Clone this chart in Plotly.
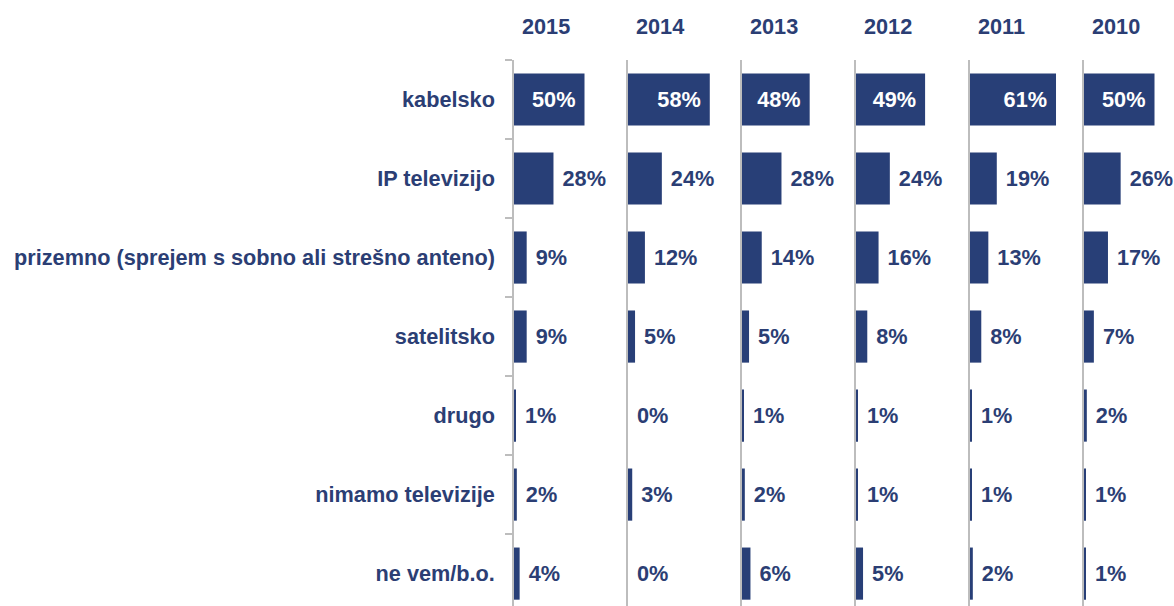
import plotly.graph_objects as go
from plotly.subplots import make_subplots

categories = [
    'kabelsko',
    'IP televizijo',
    'prizemno (sprejem s sobno ali strešno anteno)',
    'satelitsko',
    'drugo',
    'nimamo televizije',
    'ne vem/b.o.',
]
years = ['2015', '2014', '2013', '2012', '2011', '2010']
v2015 = [50, 28, 9, 9, 1, 2, 4]
v2014 = [58, 24, 12, 5, 0, 3, 0]
v2013 = [48, 28, 14, 5, 1, 2, 6]
v2012 = [49, 24, 16, 8, 1, 1, 5]
v2011 = [61, 19, 13, 8, 1, 1, 2]
v2010 = [50, 26, 17, 7, 2, 1, 1]
series = [v2015, v2014, v2013, v2012, v2011, v2010]

NAVY = '#283F77'
TEXT = '#2B3E74'
FONT = 'Liberation Sans, Arial, sans-serif'
FS = 21.7

fig = make_subplots(rows=1, cols=len(years), shared_yaxes=True, horizontal_spacing=0.0)

plot_w = 1174 - 514
step = 114
panel_w = 90
px_per = 1.41

for i, (yr, vals) in enumerate(zip(years, series)):
    pos = ['inside' if v >= 40 else 'outside' for v in vals]
    labels = [f'{v}% ' if v >= 40 else f' {v}%' for v in vals]
    fig.add_trace(go.Bar(
        x=vals, y=categories, orientation='h',
        marker=dict(color=NAVY, line=dict(width=0)),
        width=0.66,
        text=labels, textposition=pos,
        insidetextanchor='end',
        insidetextfont=dict(color='white', size=FS, family=FONT, weight='bold'),
        outsidetextfont=dict(color=TEXT, size=FS, family=FONT, weight='bold'),
        constraintext='none', cliponaxis=False,
        hoverinfo='skip', showlegend=False,
    ), row=1, col=i + 1)
    xa = 'xaxis' if i == 0 else f'xaxis{i + 1}'
    fig.layout[xa].update(
        domain=[step * i / plot_w, (step * i + panel_w) / plot_w],
        range=[0, panel_w / px_per],
        showgrid=False, zeroline=False, showline=False,
        showticklabels=False, ticks='',
    )
    fig.add_annotation(
        x=22.5, xref='x' if i == 0 else f'x{i + 1}',
        y=(606 - 27) / 546, yref='paper', yanchor='middle',
        text=yr, showarrow=False,
        font=dict(color=TEXT, size=FS, family=FONT, weight='bold'),
    )

for i in range(len(years)):
    ya = 'yaxis' if i == 0 else f'yaxis{i + 1}'
    fig.layout[ya].update(
        range=[6.41, -0.5],
        showgrid=False, zeroline=False,
        showline=True, linecolor='#BDBDBD', linewidth=1.5,
    )

fig.update_yaxes(
    row=1, col=1,
    ticks='outside', ticklen=7, tickcolor='#BDBDBD', tickwidth=1.5,
    tickson='boundaries', ticklabelstandoff=13,
    tickfont=dict(color=TEXT, size=FS, family=FONT, weight='bold'),
)

fig.update_layout(
    width=1174, height=606,
    margin=dict(l=514, r=0, t=60, b=0),
    paper_bgcolor='white', plot_bgcolor='white',
    bargap=0.34,
)

fig.write_html('out.html', config={'displayModeBar': False},
               post_script="document.body.style.margin='0';")
